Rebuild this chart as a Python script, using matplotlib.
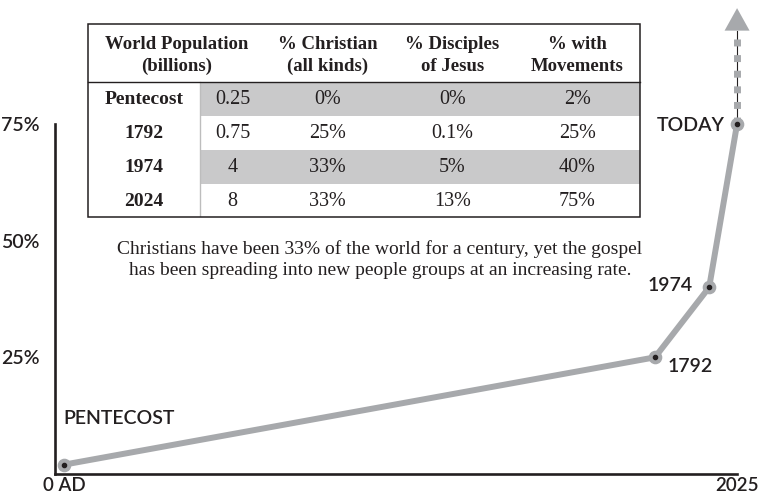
import matplotlib
matplotlib.use('Agg')
import matplotlib.pyplot as plt
import matplotlib.transforms as mtransforms
from matplotlib.patches import Polygon, Rectangle

# ---------------- data ----------------
point_labels = ['PENTECOST', '1792', '1974', 'TODAY']
point_x = [0, 1778, 1941, 2025]          # positions along the time axis as drawn
pct_movements = [2, 25, 40, 75]          # % with movements
arrow_top = 95                           # continuing trend (dashed arrow)
y_ticks = [25, 50, 75]
y_tick_labels = ['25%', '50%', '75%']
x_ticks = [0, 2025]
x_tick_labels = ['0 AD', '2025']

table_header = ['World Population\n(billions)', '% Christian\n(all kinds)',
                '% Disciples\nof Jesus', '% with\nMovements']
table_rows = ['Pentecost', '1792', '1974', '2024']
world_pop = ['0.25', '0.75', '4', '8']
pct_christian = ['0%', '25%', '33%', '33%']
pct_disciples = ['0%', '0.1%', '5%', '13%']
pct_with_movements = ['2%', '25%', '40%', '75%']
caption = ("Christians have been 33% of the world for a century, yet the gospel\n"
           "has been spreading into new people groups at an increasing rate.")

# ---------------- style ----------------
DARK = '#231f20'
GRAY = '#a7a9ac'
TGRAY = '#c9c9ca'
SANS = ['Lato', 'DejaVu Sans']
SERIF = ['Liberation Serif', 'DejaVu Serif']
SANS_SIZE = 14
SANS_WEIGHT = 'semibold'
W, H = 761, 495

fig = plt.figure(figsize=(W / 100, H / 100), dpi=100)
ax = fig.add_axes([55 / W, 21 / H, 706 / W, 466.7 / H])
ax.set_xlim(-27, 2097)
ax.set_ylim(0, 100)
ax.patch.set_visible(False)

for s in ['top', 'right']:
    ax.spines[s].set_visible(False)
for s in ['left', 'bottom']:
    ax.spines[s].set_linewidth(1.9)
    ax.spines[s].set_color(DARK)
    ax.spines[s].set_capstyle('projecting')
ax.spines['left'].set_bounds(0, 75)
ax.spines['bottom'].set_bounds(-27, 2025)

ax.set_yticks(y_ticks, y_tick_labels)
ax.set_xticks(x_ticks, x_tick_labels)
ax.set_yticks([75], minor=True)
ax.set_xticks([2025], minor=True)
ax.tick_params(axis='y', which='major', length=0, pad=11, labelsize=SANS_SIZE, labelcolor=DARK)
ax.tick_params(axis='x', which='major', length=0, pad=2.5, labelsize=SANS_SIZE - 0.5, labelcolor=DARK)
ax.tick_params(which='minor', direction='inout', length=9.5, width=1.9, color=DARK)
for lab in ax.get_xticklabels() + ax.get_yticklabels():
    lab.set_family(SANS)
    lab.set_fontweight(SANS_WEIGHT)

# main line
ax.plot(point_x, pct_movements, color=GRAY, lw=4.3, solid_capstyle='round', zorder=3)
# dashed continuation with thin core
ax.plot([point_x[-1], point_x[-1]], [pct_movements[-1], arrow_top], color=DARK, lw=0.8, zorder=2)
ax.plot([point_x[-1], point_x[-1]], [arrow_top, pct_movements[-1]], color=GRAY, lw=5.0,
        linestyle=(1.1, (1.0, 1.25)), zorder=3)
trans = fig.dpi_scale_trans + mtransforms.ScaledTranslation(point_x[-1], arrow_top, ax.transData)
ax.add_patch(Polygon([(-0.125, 0), (0.125, 0), (0, 0.225)], closed=True, transform=trans,
                     facecolor=GRAY, edgecolor='none', clip_on=False, zorder=4))
# markers
ax.plot(point_x, pct_movements, 'o', ms=8.8, color=GRAY, zorder=4)
ax.plot(point_x, pct_movements, 'o', ms=3.0, color=DARK, zorder=5)

label_offsets = [(-1, 46), (13, -9), (-16, 2), (-12, -2)]
label_ha = ['left', 'left', 'right', 'right']
for lab, x, y, off, ha in zip(point_labels, point_x, pct_movements, label_offsets, label_ha):
    ax.annotate(lab, xy=(x, y), xytext=off, textcoords='offset pixels', ha=ha, va='center',
                fontsize=SANS_SIZE, fontweight=SANS_WEIGHT, color=DARK, family=SANS)

# ---------------- table ----------------
tax = fig.add_axes([88 / W, (H - 217) / H, 552 / W, 193 / H])
tax.set_xlim(88, 640)
tax.set_ylim(217, 24)
tax.axis('off')
col_edges = [88, 200, 265, 390, 515, 640]
row_edges = [82, 116, 150, 184, 217]
for i in (0, 2):
    tax.add_patch(Rectangle((200, row_edges[i]), 440, row_edges[i + 1] - row_edges[i],
                            facecolor=TGRAY, edgecolor='none', zorder=1))
tax.add_patch(Rectangle((88, 24), 552, 193, fill=False, edgecolor=DARK, lw=1.1, zorder=3,
                        clip_on=False))
tax.plot([88, 640], [82, 82], color=DARK, lw=1.0, zorder=3, clip_on=False)
tax.plot([200, 200], [82, 217], color='#bdbdbd', lw=1.0, zorder=2)

centers = [(col_edges[i] + col_edges[i + 1]) / 2 for i in range(5)]
head_x = [(col_edges[0] + col_edges[2]) / 2] + centers[2:]
for hx, htxt in zip(head_x, table_header):
    tax.text(hx, 55.5, htxt, ha='center', va='center', fontsize=13.5, fontweight='bold',
             family=SERIF, color=DARK, linespacing=1.4)
cols = [world_pop, pct_christian, pct_disciples, pct_with_movements]
for r, name in enumerate(table_rows):
    yc = (row_edges[r] + row_edges[r + 1]) / 2 + 1
    tax.text(centers[0], yc, name, ha='center', va='center', fontsize=14, fontweight='bold',
             family=SERIF, color=DARK)
    for c, col in enumerate(cols):
        tax.text(centers[c + 1], yc, col[r], ha='center', va='center', fontsize=14.5,
                 family=SERIF, color=DARK)

fig.text(380 / W, (H - 259.5) / H, caption, ha='center', va='center', fontsize=14,
         family=SERIF, color=DARK, linespacing=1.3)

fig.savefig('out.png', dpi=100)
